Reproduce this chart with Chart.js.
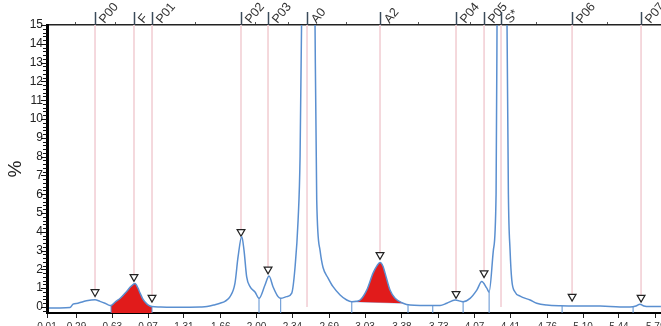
<!DOCTYPE html>
<html><head><meta charset="utf-8">
<script src="https://cdn.jsdelivr.net/npm/chart.js@4.4.1/dist/chart.umd.min.js"></script>
<style>html,body{margin:0;padding:0;background:#fff;overflow:hidden;width:661px;height:326px}canvas{display:block}</style>
</head><body>
<canvas id="c" width="661" height="334" style="width:661px;height:334px"></canvas>
<script>
// ---- data ----
const retentionTimes = [0.029,0.133,0.228,0.257,0.304,0.352,0.399,0.466,0.513,0.561,0.608,0.618,
  0.665,0.703,0.770,0.808,0.846,0.874,0.893,0.922,0.960,0.988,1.007,
  1.083,1.273,1.463,1.529,1.605,1.653,1.700,1.748,1.795,1.824,1.859,1.881,1.906,1.938,1.985,2.023,
  2.080,2.118,2.156,2.204,2.229,2.286,2.334,2.365,2.394,2.413,2.427,2.441,2.489,2.536,2.555,2.571,
  2.603,2.631,2.679,2.726,2.793,2.856,2.904,
  2.945,2.983,3.046,3.106,3.144,3.172,3.201,3.220,3.267,3.315,3.391,3.457,3.552,3.742,3.806,3.885,
  3.961,4.027,4.091,4.138,4.186,4.208,4.248,4.274,4.283,4.293,4.331,4.369,4.378,4.391,4.407,4.423,
  4.454,4.502,4.597,4.660,4.755,4.882,5.072,5.262,5.451,5.545,5.602,5.640,5.678,5.735,5.839];
const signalPct = [-0.05,-0.05,-0.03,0.15,0.2,0.28,0.35,0.38,0.3,0.2,0.08,0.08,
  0.3,0.45,0.85,1.1,1.25,1.0,0.75,0.4,0.15,0.05,0.02,
  0.0,-0.02,0.0,0.02,0.12,0.2,0.3,0.55,1.27,2.66,3.75,3.0,1.6,1.08,0.8,0.46,
  1.17,1.65,1.08,0.55,0.46,0.55,0.74,2.1,4.6,8,15,30,60,30,15,5.7,
  3.0,2.1,1.54,1.08,0.64,0.37,0.28,
  0.3,0.37,0.9,1.8,2.2,2.36,2.15,1.8,0.9,0.46,0.2,0.1,0.08,0.08,0.2,0.37,
  0.28,0.46,0.9,1.35,1.0,0.8,3.0,6,15,30,50,30,15,6,3,1.44,
  0.8,0.58,0.37,0.2,0.1,0.06,0.05,0.05,0.0,0.0,0.05,0.15,0.05,0.02,0.02];
const xTickValues = [0.01,0.29,0.63,0.97,1.31,1.66,2.00,2.34,2.69,3.03,3.38,3.73,4.07,4.41,4.76,5.10,5.44,5.79];
const yTickValues = [0,1,2,3,4,5,6,7,8,9,10,11,12,13,14,15];
const topTickTimes = [0.276,0.656,1.416,1.985,2.30,2.85,3.54,4.03,4.66,5.33];
const peakNames = ['P00','F','P01','P02','P03','A0','A2','P04','P05','S*','P06','P07'];
const peakTimes = [0.466,0.836,1.007,1.852,2.109,2.479,3.172,3.894,4.160,4.321,4.996,5.651];
const peakMarkerPct = [0.8,1.6,0.5,4.0,2.0,null,2.77,0.7,1.8,null,0.55,0.5];
const peakLineBottomPct = [0.8,1.6,0.5,4.0,2.0,0,2.77,0.7,1.8,0,0.55,0.5];
const dropTimes = [0.618,1.007,2.023,2.229,2.904,3.438,3.673,3.961,4.208,4.901,5.575];
const dropTopPct = [0.08,0.02,0.46,0.46,0.28,0.1,0.08,0.28,0.8,0.06,0.0];
const filledPeakRanges = [[0.618,1.007],[2.904,3.391]];

const X_MIN = 0.01, X_MAX = 5.84, Y_MIN = -0.32, Y_MAX = 15;
const BLUE = '#5a8fd0', RED = '#e11b1b', PINK = '#f3d3d8';

const curve = retentionTimes.map((t,i)=>({x:t,y:signalPct[i]}));
function segment(r){ return curve.filter(p=>p.x>=r[0]-1e-9 && p.x<=r[1]+1e-9); }
const redF = segment(filledPeakRanges[0]);
const redA2 = segment(filledPeakRanges[1]);
const a2Base = [redA2[0], redA2[redA2.length-1]];
const drops = []; dropTimes.forEach((t,i)=>{drops.push({x:t,y:Y_MIN},{x:t,y:dropTopPct[i]},{x:t,y:null});});
const pinks = []; peakTimes.forEach((t,i)=>{pinks.push({x:t,y:Y_MAX},{x:t,y:peakLineBottomPct[i]},{x:t,y:null});});
const tris = []; peakTimes.forEach((t,i)=>{ if(peakMarkerPct[i]!==null) tris.push({x:t,y:peakMarkerPct[i]}); });

const decor = {
  id:'decor',
  afterDraw(chart){
    const ctx = chart.ctx, xs = chart.scales.x, ys = chart.scales.y, ca = chart.chartArea;
    ctx.save();
    // y comb ticks
    ctx.strokeStyle = '#111'; ctx.lineWidth = 1;
    for (let k=-1;k<=75;k++){
      const v = k*0.2; const y = Math.round(ys.getPixelForValue(v))+0.5;
      const major = (k%5===0);
      ctx.beginPath(); ctx.moveTo(ca.left-(major?6:4), y); ctx.lineTo(ca.left, y); ctx.stroke();
    }
    // peak tags on top
    ctx.font = '12.5px "Liberation Sans", Arial, sans-serif';
    ctx.fillStyle = '#333';
    peakTimes.forEach((t,i)=>{
      const px = Math.round(xs.getPixelForValue(t))+0.5;
      ctx.strokeStyle = '#3a4a5a'; ctx.lineWidth = 1.5;
      ctx.beginPath(); ctx.moveTo(px, 12); ctx.lineTo(px, ca.top); ctx.stroke();
      ctx.save();
      const a = -50*Math.PI/180;
      ctx.setTransform(Math.cos(a), Math.sin(a), -Math.sin(a), Math.cos(a), px+9, ca.top-1);
      ctx.textBaseline = 'alphabetic'; ctx.textAlign = 'left';
      ctx.fillText(peakNames[i], 0, 0); ctx.restore();
    });
    ctx.restore();
  }
};

new Chart(document.getElementById('c'), {
  type:'line',
  data:{datasets:[
    {data:curve, borderColor:BLUE, borderWidth:1.5, pointRadius:0, fill:false, cubicInterpolationMode:'monotone'},
    {data:tris, showLine:false, pointStyle:'triangle', rotation:180, pointRadius:4.5, borderColor:'#222', backgroundColor:'#fff', pointBorderWidth:1.2},
    {data:drops, borderColor:BLUE, borderWidth:1, pointRadius:0, spanGaps:false, fill:false},
    {data:redF, borderWidth:0, borderColor:'rgba(0,0,0,0)', backgroundColor:RED, pointRadius:0, fill:'start', cubicInterpolationMode:'monotone'},
    {data:redA2, borderWidth:0, borderColor:'rgba(0,0,0,0)', backgroundColor:RED, pointRadius:0, fill:'+1', cubicInterpolationMode:'monotone'},
    {data:a2Base, borderColor:'#a9c3e6', borderWidth:1, pointRadius:0, fill:false},
    {data:pinks, borderColor:PINK, borderWidth:1, pointRadius:0, spanGaps:false, fill:false}
  ]},
  options:{
    responsive:false, devicePixelRatio:1, animation:false,
    layout:{padding:0, autoPadding:false},
    plugins:{legend:{display:false}, tooltip:{enabled:false}},
    scales:{
      x:{type:'linear', position:'bottom', min:X_MIN, max:X_MAX,
        afterBuildTicks(s){ s.ticks = xTickValues.map(v=>({value:v})); },
        afterFit(s){ s.height = 21; s.paddingLeft = 0; s.paddingRight = 0; },
        ticks:{ callback:v=>Number(v).toFixed(2), font:{size:10, family:'"Liberation Sans", Arial, sans-serif'}, color:'#333', padding:3, maxRotation:0, autoSkip:false },
        grid:{display:true, drawOnChartArea:false, drawTicks:true, tickLength:5, color:'#222'},
        border:{display:true, width:2, color:'#000'}
      },
      x2:{type:'linear', position:'top', min:X_MIN, max:X_MAX,
        afterBuildTicks(s){ s.ticks = topTickTimes.map(v=>({value:v})); },
        afterFit(s){ s.height = 25; s.paddingLeft = 0; s.paddingRight = 0; },
        ticks:{display:false},
        grid:{display:true, drawOnChartArea:false, drawTicks:true, tickLength:3, color:'#555'},
        border:{display:true, width:1.5, color:'#222'}
      },
      y:{type:'linear', min:Y_MIN, max:Y_MAX,
        afterBuildTicks(s){ s.ticks = yTickValues.map(v=>({value:v})); },
        afterFit(s){ s.width = 47; s.paddingTop = 0; s.paddingBottom = 0; },
        ticks:{ font:{size:12, family:'"Liberation Sans", Arial, sans-serif'}, color:'#222', padding:4 },
        grid:{display:false, drawTicks:false},
        border:{display:true, width:3, color:'#000'},
        title:{display:true, text:'%', font:{size:19, family:'"Liberation Sans", Arial, sans-serif'}, color:'#222', padding:{top:4,bottom:0}}
      }
    }
  },
  plugins:[decor]
});
</script>
</body></html>
